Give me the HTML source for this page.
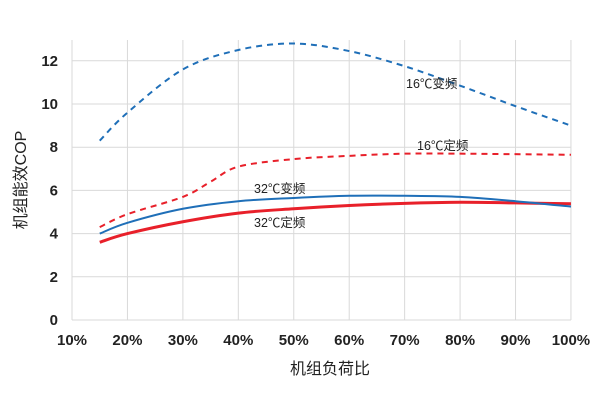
<!DOCTYPE html>
<html><head><meta charset="utf-8"><style>
html,body{margin:0;padding:0;background:#fff;}
svg{display:block;font-family:"Liberation Sans","Noto Sans CJK SC",sans-serif;}
</style></head><body>
<svg id="s" width="600" height="400" viewBox="0 0 600 400">
<g id="grid" stroke="#d9d9d9" stroke-width="1"></g>
<g id="ticks" font-weight="bold" font-size="15" fill="#222"></g>
<g id="lines" fill="none"></g>
<g font-size="12.5" fill="#222">
<text x="406" y="88">16℃变频</text>
<text x="417" y="150">16℃定频</text>
<text x="254" y="193">32℃变频</text>
<text x="254" y="227">32℃定频</text>
</g>
<text x="330" y="374" font-size="16" text-anchor="middle" fill="#222">机组负荷比</text>
<text transform="translate(26,180) rotate(-90)" font-size="16" text-anchor="middle" fill="#222">机组能效COP</text>
</svg>
<script>
var X=p=>72+(p-10)*5.544, Y=v=>320-v*21.6, ns="http://www.w3.org/2000/svg";
function el(t,a,par){var e=document.createElementNS(ns,t);for(var k in a)e.setAttribute(k,a[k]);document.getElementById(par).appendChild(e);return e;}
for(var p=10;p<=100;p+=10){el("line",{x1:X(p),x2:X(p),y1:40,y2:320},"grid");var t=el("text",{x:X(p),y:345,"text-anchor":"middle"},"ticks");t.textContent=p+"%";}
for(var v=0;v<=12;v+=2){el("line",{x1:72,x2:571,y1:Y(v),y2:Y(v)},"grid");var t=el("text",{x:58,y:Y(v)+5,"text-anchor":"end"},"ticks");t.textContent=v;}
function path(pts){pts=pts.map(a=>[X(a[0]),Y(a[1])]);var d="M"+pts[0];for(var i=0;i<pts.length-1;i++){var p0=pts[i-1]||pts[i],p1=pts[i],p2=pts[i+1],p3=pts[i+2]||p2;
d+=" C"+(p1[0]+(p2[0]-p0[0])/6)+","+(p1[1]+(p2[1]-p0[1])/6)+" "+(p2[0]-(p3[0]-p1[0])/6)+","+(p2[1]-(p3[1]-p1[1])/6)+" "+p2;}return d;}
el("path",{d:path([[15,8.3],[20,9.6],[30,11.6],[40,12.5],[50,12.8],[60,12.45],[70,11.75],[80,10.85],[90,9.9],[100,9.0]]),stroke:"#1f6fb8","stroke-width":2,"stroke-dasharray":"6,5"},"lines");
el("path",{d:path([[15,4.3],[20,4.9],[30,5.7],[35,6.4],[40,7.1],[50,7.45],[60,7.6],[70,7.7],[80,7.7],[100,7.65]]),stroke:"#e8202a","stroke-width":2,"stroke-dasharray":"6,5"},"lines");
el("path",{d:path([[15,3.6],[20,4.0],[30,4.55],[40,4.95],[50,5.15],[60,5.3],[70,5.4],[80,5.45],[90,5.42],[100,5.38]]),stroke:"#e8202a","stroke-width":3},"lines");
el("path",{d:path([[15,4.0],[20,4.5],[30,5.15],[40,5.5],[50,5.65],[60,5.75],[70,5.75],[80,5.7],[90,5.5],[100,5.25]]),stroke:"#1f6fb8","stroke-width":2},"lines");
</script>
</body></html>
